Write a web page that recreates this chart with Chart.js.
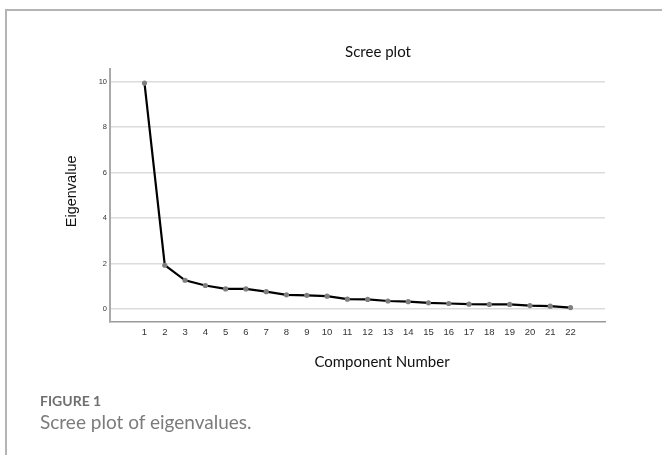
<!DOCTYPE html>
<html>
<head>
<meta charset="utf-8">
<title>Scree plot</title>
<script src="https://cdn.jsdelivr.net/npm/chart.js@4.4.1/dist/chart.umd.min.js"></script>
<style>
    html, body { margin: 0; padding: 0; background: #fff; }
    body { width: 662px; height: 455px; position: relative; overflow: hidden; }
    #frame {
        position: absolute; left: 5px; top: 9px; width: 660px; height: 444px;
        border-top: 2px solid #b4b4b4; border-left: 2px solid #b4b4b4;
    }
    #screeChart { position: absolute; left: 0; top: 0; }
    #figLabel {
        position: absolute; left: 40px; top: 392px; line-height: 14px;
        font: 700 14px Lato, sans-serif; color: #6f6f6f;
    }
    #figCaption {
        position: absolute; left: 40px; top: 410px; line-height: 22px;
        font: 19px Lato, sans-serif; color: #7b7b7b;
    }
</style>
</head>
<body>
<div id="frame"></div>
<canvas id="screeChart" width="662" height="455"></canvas>
<div id="figLabel">FIGURE 1</div>
<div id="figCaption">Scree plot of eigenvalues.</div>
<script>
const componentNumbers = [1, 2, 3, 4, 5, 6, 7, 8, 9, 10, 11, 12, 13, 14, 15, 16, 17, 18, 19, 20, 21, 22];
const eigenvalues = [9.93, 1.93, 1.27, 1.04, 0.89, 0.89, 0.77, 0.63, 0.61, 0.57, 0.44,
                     0.43, 0.36, 0.33, 0.28, 0.25, 0.22, 0.21, 0.21, 0.16, 0.13, 0.07];
const yTicks = [0, 2, 4, 6, 8, 10];
const chartTitle = 'Scree plot';
const xTitle = 'Component Number';
const yTitle = 'Eigenvalue';

// titles sit off-centre in the original, so draw them relative to the chart area
const screeTitles = {
    id: 'screeTitles',
    afterDraw(chart) {
        const ctx = chart.ctx;
        const area = chart.chartArea;
        ctx.save();
        ctx.fillStyle = '#111';
        ctx.textAlign = 'center';
        ctx.textBaseline = 'middle';
        ctx.font = '15px Lato, sans-serif';
        ctx.fillText(chartTitle, area.left + 268, area.top - 17);
        ctx.fillText(xTitle, area.left + 272, area.bottom + 40);
        ctx.translate(72, (area.top + area.bottom) / 2 - 4);
        ctx.rotate(-Math.PI / 2);
        ctx.font = '14.5px "Liberation Sans", Arial, sans-serif';
        ctx.fillText(yTitle, 0, 0);
        ctx.restore();
    }
};

const points = componentNumbers.map((n, i) => ({ x: n, y: eigenvalues[i] }));

new Chart(document.getElementById('screeChart'), {
    type: 'line',
    data: {
        datasets: [{
            data: points,
            borderColor: '#000',
            borderWidth: 2.2,
            tension: 0,
            pointRadius: 2.6,
            pointBorderWidth: 0,
            pointBackgroundColor: '#7f7f7f',
            pointHoverRadius: 2.6
        }]
    },
    options: {
        responsive: false,
        animation: false,
        devicePixelRatio: 1,
        layout: {
            padding: { top: 69, right: 57, bottom: 0, left: 0 }
        },
        scales: {
            x: {
                type: 'linear',
                min: -0.7,
                max: 23.7,
                afterBuildTicks: (scale) => {
                    scale.ticks = componentNumbers.map(v => ({ value: v }));
                },
                afterFit: (scale) => {
                    scale.height = 133.3;
                },
                grid: { display: true, drawOnChartArea: false, drawTicks: false },
                border: { display: true, color: '#9a9a9a', width: 1.5 },
                ticks: {
                    autoSkip: false,
                    maxRotation: 0,
                    padding: 5,
                    color: '#333',
                    font: { family: '"Liberation Sans", Arial, sans-serif', size: 9.5 }
                }
            },
            y: {
                min: -0.55,
                max: 10.55,
                afterBuildTicks: (scale) => {
                    scale.ticks = yTicks.map(v => ({ value: v }));
                },
                afterFit: (scale) => {
                    scale.width = 110;
                },
                grid: { color: '#dcdcdc', lineWidth: 1.5, drawTicks: false },
                border: { display: true, color: '#aaaaaa', width: 2 },
                ticks: {
                    padding: 3,
                    color: '#333',
                    font: { family: '"Liberation Sans", Arial, sans-serif', size: 7.5 }
                }
            }
        },
        plugins: {
            legend: { display: false },
            tooltip: { enabled: false },
            title: { display: false }
        }
    },
    plugins: [screeTitles]
});
</script>
</body>
</html>
